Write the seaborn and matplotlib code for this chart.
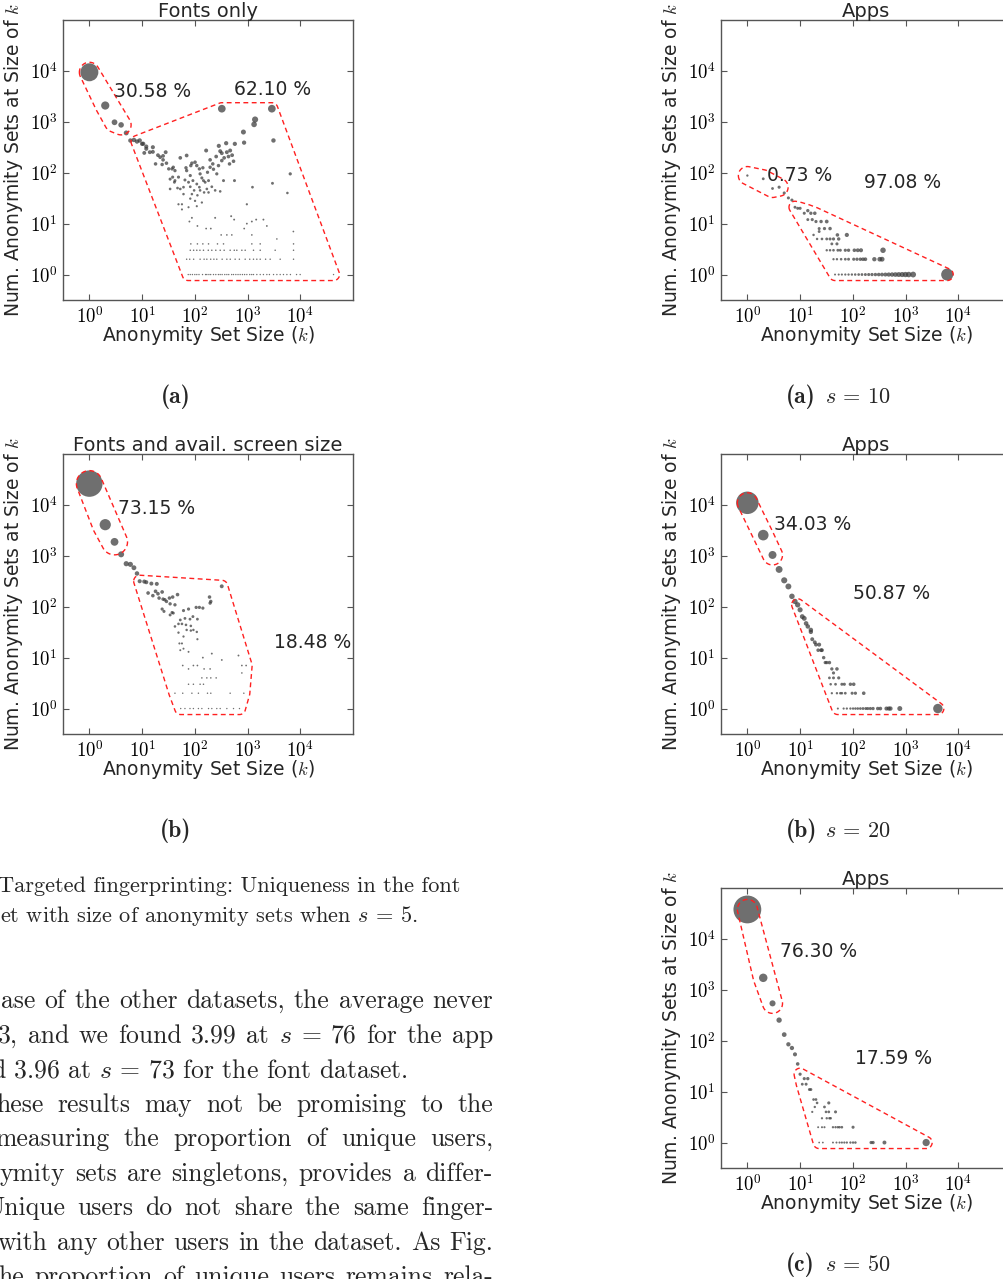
import re
import numpy as np
import pandas as pd
import matplotlib
matplotlib.use("Agg")
import matplotlib.pyplot as plt
from matplotlib.ticker import NullLocator
import seaborn as sns

# ============================ DATA ============================
# k = anonymity set size, n = number of anonymity sets of size k

# ---- (a) left: Fonts only
f1_head = [(1, 9400), (2, 2090), (3, 980), (4, 870), (5, 605), (6, 429), (7, 441), (8, 410)]
f1_cloud = [(10, 369), (12, 327), (16, 317), (11, 245), (14, 253), (16, 257), (20, 221), (22, 202),
            (25, 214), (28, 253), (18, 149), (24, 145), (29, 154), (25, 179), (32, 119), (37, 119),
            (39, 128), (42, 110), (38, 82), (42, 70), (49, 82), (53, 196), (70, 218), (84, 138),
            (101, 161), (122, 119), (126, 95), (142, 125), (164, 273), (174, 102), (195, 179),
            (219, 149), (226, 117), (254, 208), (285, 337), (303, 265), (325, 242), (393, 380),
            (405, 253), (468, 273), (510, 221), (542, 168), (574, 369), (70, 110), (82, 88),
            (92, 70), (109, 60), (76, 65), (61, 52), (53, 48), (47, 50), (34, 48), (61, 38),
            (88, 38), (126, 45), (157, 65), (182, 41), (243, 45), (261, 95), (146, 70), (101, 28),
            (76, 21), (57, 24), (112, 36), (82, 31), (49, 24), (57, 19), (109, 22), (136, 26),
            (9, 430), (10.5, 371), (12, 295)]
f1_cloud2 = [(34, 75), (41, 65), (65, 72), (82, 53), (97, 45), (122, 52), (150, 41), (169, 48),
             (210, 53), (303, 43), (350, 70), (68, 125), (88, 154), (109, 138), (136, 79), (182, 70),
             (195, 128), (281, 138), (325, 173), (360, 196), (435, 208), (455, 149)]
f1_top = [(325, 1810), (2890, 1810), (1390, 1110), (1330, 890), (835, 630), (860, 390), (3100, 430),
          (6450, 95), (2970, 62), (5700, 40), (1240, 52), (565, 70), (970, 24), (7400, 7), (2000, 12)]
f1_small = [(88, 13), (79, 11), (243, 13), (489, 14), (557, 12), (112, 9), (164, 8), (201, 8),
            (316, 6), (405, 6), (503, 6), (970, 10), (1206, 11), (1458, 12), (2323, 9), (864, 8),
            (1206, 6), (3597, 5), (7450, 4)]
f1_n4_k = [84, 112, 142, 182, 269, 350, 1206, 1738]
f1_n3_k = [82, 95, 109, 125, 146, 180, 210, 250, 303, 360, 468, 560, 626, 780, 902, 1297, 1738, 3342, 7450]
f1_n2_k = [70, 80, 95, 126, 150, 169, 200, 230, 261, 330, 405, 470, 582, 700, 902, 1100, 1297, 1500,
           1738, 2200, 2687, 4159, 7450]
f1_n1_k = [75, 82, 90, 100, 109, 120, 140, 160, 169, 185, 200, 226, 250, 280, 303, 330, 370, 405, 440,
           500, 542, 600, 660, 725, 800, 880, 970, 1100, 1200, 1297, 1500, 1738, 2000, 2323, 2600,
           3112, 3600, 4159, 4800, 5572, 6500, 8500, 9950, 42760]

# ---- (a) right: Apps, s = 10
a10_head = [(1, 88), (2, 76), (3, 49), (4, 52), (5, 40), (6, 32), (7, 29), (8, 21)]
a10_cloud = [(9, 20), (10, 20), (12, 16), (14, 18), (16, 16), (19, 16), (14, 12), (17, 12), (20, 11),
             (25, 11), (32, 11), (23, 8), (29, 8), (23, 7), (37, 8), (51, 6), (77, 6), (18, 6),
             (21, 5), (26, 5), (32, 5), (37, 5), (43, 5), (54, 5), (40, 4), (50, 4)]
a10_n3_k = [32, 37, 43, 52, 58, 72, 83, 107, 124, 143, 374]
a10_n2_k = [43, 50, 60, 72, 83, 104, 120, 139, 156, 173, 256, 324, 359]
a10_n1_k = [46, 54, 62, 72, 83, 96, 111, 129, 149, 173, 200, 231, 268, 310, 358, 415, 480, 556, 643,
            743, 861, 995, 1151, 1393, 6166]

# ---- (b) left: Fonts and avail. screen size
f2_head = [(1, 26200), (2, 4090), (3, 1880), (4, 1070), (5, 700), (6, 679), (7, 583), (8, 450)]
f2_cloud = [(9, 317), (11, 312), (12, 303), (15, 285), (19, 281), (13, 186), (16, 165), (18, 201),
            (20, 180), (24, 195), (21, 148), (25, 141), (29, 127), (27, 137), (33, 148), (38, 155),
            (47, 173), (34, 114), (42, 109), (24, 90), (26, 81), (34, 69), (37, 77), (39, 75),
            (61, 84), (76, 90), (106, 97), (122, 97), (142, 94), (190, 155), (201, 127), (195, 118),
            (324, 252), (53, 55), (65, 59), (81, 57), (92, 64), (112, 57), (42, 41), (49, 46),
            (57, 46), (68, 44), (84, 42), (94, 35), (70, 35), (49, 31), (61, 26), (84, 34),
            (109, 32), (51, 19), (57, 19), (53, 14), (61, 15), (76, 13), (112, 23)]
f2_small = [(210, 12), (142, 10), (325, 9), (673, 11), (780, 7), (59, 7), (76, 6), (94, 7), (112, 7),
            (150, 6), (195, 6), (136, 4), (169, 4), (201, 4), (254, 4), (780, 5), (940, 7)]
f2_n3_k = [76, 94, 126, 146]
f2_n2_k = [42, 59, 88, 117, 174, 201, 468, 850]
f2_n1_k = [54, 65, 81, 94, 117, 136, 182, 210, 261, 303, 405, 542, 703]

# ---- (b) right: Apps, s = 20
a20_head = [(1, 11000), (2, 2550), (3, 1040), (4, 540), (5, 330), (6, 250), (7, 160), (8, 127),
            (9, 109), (10, 87), (11, 64), (12, 59), (13, 47), (14, 41), (16, 35), (16, 32)]
a20_cloud = [(17, 23), (19, 20), (23, 18), (22, 14), (25, 14), (26, 14), (20, 18), (28, 10), (30, 8),
             (32, 8), (36, 8), (40, 6), (43, 5), (50, 6), (36, 4), (43, 4), (54, 4)]
a20_n3_k = [38, 47, 62, 69, 90, 104]
a20_n2_k = [40, 50, 58, 62, 72, 97, 112, 161]
a20_n1_k = [52, 67, 77, 90, 101, 112, 124, 139, 156, 176, 192, 215, 242, 297, 333, 434, 480, 517,
            778, 4100]

# ---- (c) right: Apps, s = 50
a50_head = [(1, 37900), (2, 1720), (3, 542), (4, 254), (5, 132), (6, 85), (7, 72), (8, 54), (9, 35)]
a50_cloud = [(10, 22), (12, 18), (14, 18), (11, 14), (13, 14), (15, 11), (16, 11), (18, 7), (20, 7),
             (19, 5), (21, 6), (35, 6), (29, 5), (17, 4), (31, 4), (35, 4), (47, 4)]
a50_n3_k = [26, 32, 36, 38]
a50_n2_k = [22, 26, 29, 42, 47, 52, 56, 62, 101]
a50_n1_k = [23, 27, 42, 49, 56, 62, 69, 77, 90, 101, 112, 222, 242, 398, 2460]

titles = ["Fonts only", "Apps", "Fonts and avail. screen size", "Apps", "Apps"]
pct_labels = [[("30.58 %", 16, 3950), ("62.10 %", 2940, 4300)],
              [("0.73 %", 10, 88), ("97.08 %", 861, 65)],
              [("73.15 %", 19, 8650), ("18.48 %", 17000, 20)],
              [("34.03 %", 17.5, 4090), ("50.87 %", 540, 186)],
              [("76.30 %", 22, 5690), ("17.59 %", 580, 44)]]
# group A: k <= a_max ; group B: k >= b_min
group_a_max = [4, 4, 3, 3, 3]
group_b_min = [8, 8, 9, 9, 10]

x_ticks = [1, 10, 100, 1000, 10000]
x_tick_labels = [r"$10^{0}$", r"$10^{1}$", r"$10^{2}$", r"$10^{3}$", r"$10^{4}$"]
y_ticks = [1, 10, 100, 1000, 10000]
y_tick_labels = [r"$10^{0}$", r"$10^{1}$", r"$10^{2}$", r"$10^{3}$", r"$10^{4}$"]

sub_captions = ["(a)", "(a)", "(b)", "(b)", "(c)"]
sub_caption_s = [None, "$s$ = 10", None, "$s$ = 20", "$s$ = 50"]

fig_caption = ["Targeted fingerprinting: Uniqueness in the font",
               "et with size of anonymity sets when $s$ = 5."]
body_lines = ["ase of the other datasets, the average never",
              "3, and we found 3.99 at $s$ = 76 for the app",
              "d 3.96 at $s$ = 73 for the font dataset.",
              "hese results may not be promising to the",
              "measuring the proportion of unique users,",
              "ymity sets are singletons, provides a differ-",
              "Unique users do not share the same finger-",
              "with any other users in the dataset. As Fig.",
              "he proportion of unique users remains rela-"]


def build(head, clouds, rows):
    pts = list(head)
    for c in clouds:
        pts += list(c)
    for nval, ks in rows:
        pts += [(kk, nval) for kk in ks]
    k, n = zip(*pts)
    return pd.DataFrame({"k": np.array(k, float), "n": np.array(n, float)})


datasets = [
    build(f1_head, [f1_cloud, f1_cloud2, f1_top, f1_small],
          [(4, f1_n4_k), (3, f1_n3_k), (2, f1_n2_k), (1, f1_n1_k)]),
    build(a10_head, [a10_cloud], [(3, a10_n3_k), (2, a10_n2_k), (1, a10_n1_k)]),
    build(f2_head, [f2_cloud, f2_small], [(3, f2_n3_k), (2, f2_n2_k), (1, f2_n1_k)]),
    build(a20_head, [a20_cloud], [(3, a20_n3_k), (2, a20_n2_k), (1, a20_n1_k)]),
    build(a50_head, [a50_cloud], [(3, a50_n3_k), (2, a50_n2_k), (1, a50_n1_k)]),
]
is_apps = [False, True, False, True, True]

# ============================ STYLE / LAYOUT ============================
W, H = 1004, 1279
sns.set_theme(style="white")
plt.rcParams.update({
    "font.family": ["DejaVu Sans"],
    "mathtext.fontset": "cm",
    "axes.edgecolor": "#555555",
    "axes.linewidth": 1.0,
    "axes.facecolor": "white",
    "figure.facecolor": "white",
})

fig = plt.figure(figsize=(W / 100, H / 100), dpi=100)
renderer = fig.canvas.get_renderer()

ax_boxes = [(63, 20), (721, 20), (63, 454), (721, 454), (721, 888)]
AX_W, AX_H = 290, 280
hull_r_a = [10, 9, 13, 10, 10]
hull_r_b = 6

FONT_LOGW = [0, 0.7, 1.3, 1.7, 2.0, 2.3, 2.6, 2.8, 3.0, 3.3, 3.6, 4.0, 4.45]
FONT_D = [1.4, 1.6, 2.1, 2.7, 3.3, 3.7, 4.3, 5.0, 5.8, 8.0, 11, 18.5, 27]
APP_LOGW = [1.0, 1.6, 2.0, 2.3, 2.5, 2.9, 3.2, 3.5, 3.7, 3.9, 4.05, 4.6]
APP_D = [1.5, 1.9, 2.4, 3.1, 3.6, 5.0, 6.0, 8.0, 10.5, 14, 23, 28]


def convex_hull(p):
    p = sorted(set(map(tuple, p)))

    def cross(o, a, b):
        return (a[0] - o[0]) * (b[1] - o[1]) - (a[1] - o[1]) * (b[0] - o[0])
    lower, upper = [], []
    for q in p:
        while len(lower) >= 2 and cross(lower[-2], lower[-1], q) <= 0:
            lower.pop()
        lower.append(q)
    for q in reversed(p):
        while len(upper) >= 2 and cross(upper[-2], upper[-1], q) <= 0:
            upper.pop()
        upper.append(q)
    return np.array(lower[:-1] + upper[:-1])


def rounded_hull(ax, xs, ys, r):
    pts = ax.transData.transform(np.column_stack([xs, ys]))
    ang = np.linspace(0, 2 * np.pi, 60, endpoint=False)
    circ = np.column_stack([np.cos(ang), np.sin(ang)]) * r
    allp = (pts[:, None, :] + circ[None, :, :]).reshape(-1, 2)
    hull = convex_hull(allp)
    hull = np.vstack([hull, hull[:1]])
    d = ax.transData.inverted().transform(hull)
    ax.plot(d[:, 0], d[:, 1], color="#ff2020", lw=1.0, ls=(0, (3.5, 2.5)), zorder=5)


for i, df in enumerate(datasets):
    left, top = ax_boxes[i]
    ax = fig.add_axes([left / W, 1 - (top + AX_H) / H, AX_W / W, AX_H / H])
    ax.set_xscale("log")
    ax.set_yscale("log")
    ax.set_xlim(10 ** -0.5, 10 ** 5)
    ax.set_ylim(10 ** -0.5, 10 ** 5)

    df = df.copy()
    if is_apps[i]:
        df["w"] = df["k"] * df["n"]
        lx, ld = APP_LOGW, APP_D
    else:
        df["w"] = df["n"]
        lx, ld = FONT_LOGW, FONT_D
    size_map = {v: float((np.interp(np.log10(v), lx, ld) * 0.72) ** 2) for v in np.unique(df["w"])}
    df = df.sort_values("w", ascending=False)
    sns.scatterplot(data=df, x="k", y="n", size="w", sizes=size_map, color="#383838",
                    alpha=0.72, linewidth=0, edgecolor="none", legend=False, ax=ax, zorder=3)

    ax.set_xlim(10 ** -0.5, 10 ** 5)
    ax.set_ylim(10 ** -0.5, 10 ** 5)
    ax.set_xticks(x_ticks)
    ax.set_xticklabels(x_tick_labels)
    ax.set_yticks(y_ticks)
    ax.set_yticklabels(y_tick_labels)
    ax.xaxis.set_minor_locator(NullLocator())
    ax.yaxis.set_minor_locator(NullLocator())
    ax.tick_params(which="major", direction="in", top=True, right=True, bottom=True, left=True,
                   length=4, width=0.8, color="#555555", labelsize=13.5, labelcolor="black")
    ax.tick_params(axis="x", pad=4)
    ax.tick_params(axis="y", pad=4)
    for sp in ax.spines.values():
        sp.set_color("#555555")
        sp.set_linewidth(1.0)

    ax.set_title(titles[i], fontsize=14, pad=2)
    ax.set_xlabel("Anonymity Set Size ($k$)", fontsize=13.5)
    ax.set_ylabel("Num. Anonymity Sets at Size of $k$", fontsize=13.5)
    ax.xaxis.set_label_coords(0.5, -0.085)
    ax.yaxis.set_label_coords(-0.131, 0.5)

    a_mask = df["k"] <= group_a_max[i]
    b_mask = df["k"] >= group_b_min[i]
    rounded_hull(ax, df.loc[a_mask, "k"].values, df.loc[a_mask, "n"].values, hull_r_a[i])
    rounded_hull(ax, df.loc[b_mask, "k"].values, df.loc[b_mask, "n"].values, hull_r_b)

    for txt, x, y in pct_labels[i]:
        ax.text(x, y, txt, fontsize=13.5, ha="center", va="center", zorder=6)

    # sub-caption
    base_y = top + AX_H + 103
    if sub_caption_s[i] is None:
        fig.text((left + 113) / W, 1 - base_y / H, sub_captions[i], family="cmb10",
                 fontsize=17, ha="center", va="baseline")
    else:
        fig.text((left + 65) / W, 1 - base_y / H, sub_captions[i], family="cmb10",
                 fontsize=17, ha="left", va="baseline")
        fig.text((left + 104) / W, 1 - base_y / H, sub_caption_s[i], family="cmr10",
                 fontsize=16, ha="left", va="baseline")


# ============================ BODY TEXT ============================
def text_width(s, size, family):
    t = fig.text(0, 0, s, fontsize=size, family=family)
    w = t.get_window_extent(renderer).width
    t.remove()
    return w


cap_size = 16 * 462 / text_width(fig_caption[0], 16, "cmr10")
body_size = 18 * 417 / text_width(body_lines[2], 18, "cmr10")


def tokens(s):
    return re.findall(r"\$[^$]*\$|\S+", s)


def draw_line(s, x_left, base, size, x_right=None):
    if x_right is None:
        fig.text(x_left / W, 1 - base / H, s, fontsize=size, family="cmr10",
                 ha="left", va="baseline")
        return
    words = tokens(s)
    ts = [fig.text(0, 1 - base / H, w, fontsize=size, family="cmr10", ha="left", va="baseline")
          for w in words]
    widths = [t.get_window_extent(renderer).width for t in ts]
    gap = (x_right - x_left - sum(widths)) / (len(words) - 1)
    x = x_left
    for t, wd in zip(ts, widths):
        t.set_x(x / W)
        x += wd + gap


draw_line(fig_caption[0], -2, 892.3, cap_size)
draw_line(fig_caption[1], 0.5, 921.7, cap_size)

body_left = [1.5, -2, -9, -4, -5, -1, -15, -2, -2]
body_justify = [True, True, False, True, True, True, True, True, True]
for j, line in enumerate(body_lines):
    base = 1008.3 + j * 34.5
    draw_line(line, body_left[j], base, body_size, 493 if body_justify[j] else None)

fig.savefig("out.png", dpi=100)
